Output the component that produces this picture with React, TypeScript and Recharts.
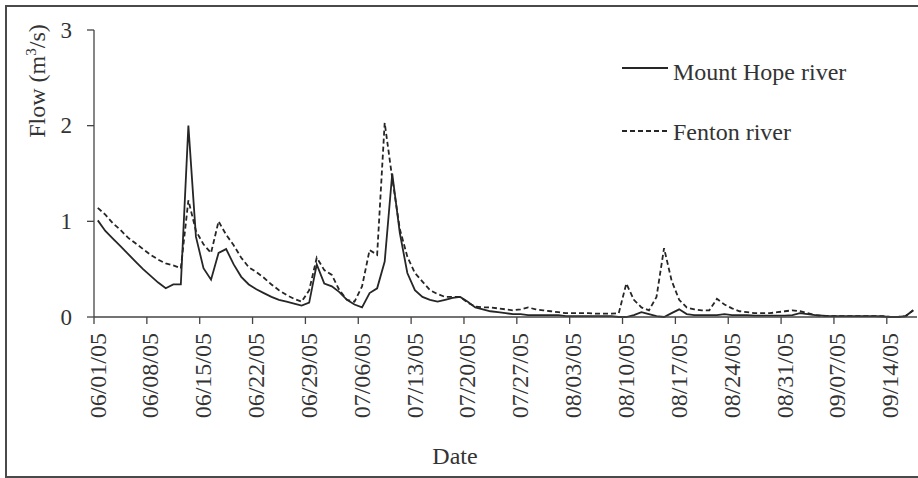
import React from 'react';
import { LineChart, Line, XAxis, YAxis, Legend } from 'recharts';

// daily flows, 06/01/05 .. 09/17/05 (m3/s)
const mountHope = [
  1.01, 0.9, 0.82, 0.74, 0.66, 0.58, 0.5, 0.43, 0.36, 0.3,
  0.34, 0.34, 2.0, 0.84, 0.51, 0.39, 0.67, 0.71, 0.55, 0.42,
  0.34, 0.29, 0.25, 0.21, 0.18, 0.16, 0.14, 0.12, 0.15, 0.55,
  0.35, 0.32, 0.26, 0.18, 0.13, 0.1, 0.25, 0.3, 0.58, 1.5,
  0.88, 0.46, 0.28, 0.21, 0.18, 0.16, 0.18, 0.2, 0.21, 0.16,
  0.1, 0.08, 0.06, 0.05, 0.04, 0.03, 0.03, 0.02, 0.02, 0.02,
  0.02, 0.02, 0.01, 0.01, 0.01, 0.01, 0.01, 0.01, 0.01, 0.0,
  0.0, 0.02, 0.05, 0.03, 0.01, 0.0, 0.04, 0.08, 0.03, 0.02,
  0.02, 0.02, 0.02, 0.03, 0.02, 0.02, 0.02, 0.015, 0.015, 0.015,
  0.015, 0.015, 0.02, 0.04, 0.03, 0.02, 0.015, 0.01, 0.01, 0.01,
  0.01, 0.01, 0.01, 0.01, 0.005, 0.0, 0.0, 0.01, 0.07,
];

const fenton = [
  1.14, 1.07, 0.98, 0.91, 0.83, 0.77, 0.71, 0.65, 0.6, 0.56,
  0.54, 0.51, 1.22, 0.9, 0.76, 0.67, 1.0, 0.86, 0.75, 0.62,
  0.52, 0.47, 0.41, 0.34, 0.28, 0.23, 0.19, 0.16, 0.28, 0.62,
  0.49, 0.44, 0.28, 0.18, 0.16, 0.32, 0.7, 0.65, 2.03, 1.45,
  0.92, 0.63, 0.46, 0.37, 0.28, 0.24, 0.21, 0.21, 0.21, 0.15,
  0.11, 0.1, 0.1, 0.09, 0.08, 0.07, 0.08, 0.1, 0.08, 0.07,
  0.06, 0.05, 0.04, 0.04, 0.04, 0.04, 0.035, 0.035, 0.035, 0.04,
  0.35, 0.18, 0.1, 0.07, 0.21, 0.72, 0.38, 0.18, 0.1, 0.08,
  0.07, 0.07, 0.19, 0.13, 0.09, 0.06, 0.05, 0.04, 0.04, 0.04,
  0.05, 0.06, 0.07, 0.06, 0.04, 0.02, 0.01, 0.01, 0.01, 0.01,
  0.01, 0.01, 0.01, 0.01, 0.01, 0.0, 0.0, 0.01, 0.07,
];

const tickLabels = [
  '06/01/05', '06/08/05', '06/15/05', '06/22/05', '06/29/05', '07/06/05',
  '07/13/05', '07/20/05', '07/27/05', '08/03/05', '08/10/05', '08/17/05',
  '08/24/05', '08/31/05', '09/07/05', '09/14/05',
];
const tickDays = [0, 7, 14, 21, 28, 35, 42, 49, 56, 63, 70, 77, 84, 91, 98, 105];
const yTicks = [0, 1, 2, 3];

const FONT = '"Liberation Serif", "Times New Roman", serif';
const INK = '#333';
const AXIS = '#444';

// each day's value sits in the middle of its day slot
const data = mountHope.map((v, i) => ({ day: i + 0.5, mh: v, fenton: fenton[i] }));

const XTick = ({ x, y, payload }: any) => {
  const idx = tickDays.indexOf(payload.value);
  return (
    <text
      transform={`translate(${x + 11.5},${y + 7}) rotate(-90)`}
      textAnchor="end"
      fontFamily={FONT}
      fontSize={24}
      fill={INK}
    >
      {tickLabels[idx]}
    </text>
  );
};

const YTick = ({ x, y, payload }: any) => (
  <text x={x - 13} y={y} dy="0.34em" textAnchor="end" fontFamily={FONT} fontSize={23} fill={INK}>
    {payload.value}
  </text>
);

const YTitle = () => (
  <text transform="translate(45,81) rotate(-90)" textAnchor="middle" fontFamily={FONT} fontSize={24} fill={INK}>
    Flow (m<tspan dy={-9} fontSize={15}>3</tspan>
    <tspan dy={9}>/s)</tspan>
  </text>
);

const XTitle = () => (
  <text x={455} y={464} textAnchor="middle" fontFamily={FONT} fontSize={24} fill={INK}>
    Date
  </text>
);

const LegendBox = () => (
  <svg width={260} height={110} style={{ display: 'block' }}>
    <line x1={7} x2={53} y1={23} y2={23} stroke="#262626" strokeWidth={1.8} />
    <text x={58} y={34.5} fontFamily={FONT} fontSize={24} fill={INK}>Mount Hope river</text>
    <line x1={7} x2={53} y1={86} y2={86} stroke="#262626" strokeWidth={1.8} strokeDasharray="5 3" />
    <text x={58} y={94.5} fontFamily={FONT} fontSize={24} fill={INK}>Fenton river</text>
  </svg>
);

export default function App() {
  return (
    <div style={{ position: 'absolute', left: 0, top: 0, width: 918, height: 478, background: '#fff', overflow: 'hidden' }}>
      <div
        style={{
          position: 'absolute',
          left: 5,
          top: 5,
          width: 940,
          height: 473,
          boxSizing: 'border-box',
          border: '2px solid #4a4a4a',
        }}
      />
      <LineChart
        width={918}
        height={478}
        data={data}
        margin={{ top: 30, right: 1, left: 34, bottom: 101 }}
        style={{ position: 'absolute', left: 0, top: 0 }}
      >
        <XAxis
          type="number"
          dataKey="day"
          domain={[0, 109]}
          ticks={tickDays}
          interval={0}
          height={60}
          tickSize={7}
          axisLine={{ stroke: AXIS, strokeWidth: 1.3 }}
          tickLine={{ stroke: AXIS, strokeWidth: 1.3 }}
          tick={<XTick />}
          label={<XTitle />}
        />
        <YAxis
          type="number"
          domain={[0, 3]}
          ticks={yTicks}
          width={60}
          tickSize={7}
          axisLine={{ stroke: AXIS, strokeWidth: 1.3 }}
          tickLine={{ stroke: AXIS, strokeWidth: 1.3 }}
          tick={<YTick />}
          label={<YTitle />}
        />
        <Legend
          layout="horizontal"
          verticalAlign="middle"
          align="center"
          content={<LegendBox />}
          wrapperStyle={{ left: 615, top: 45, width: 260, height: 110 }}
        />
        <Line
          type="linear"
          dataKey="fenton"
          stroke="#262626"
          strokeWidth={1.8}
          strokeDasharray="5 3"
          dot={false}
          isAnimationActive={false}
        />
        <Line
          type="linear"
          dataKey="mh"
          stroke="#262626"
          strokeWidth={1.8}
          dot={false}
          isAnimationActive={false}
        />
      </LineChart>
    </div>
  );
}
